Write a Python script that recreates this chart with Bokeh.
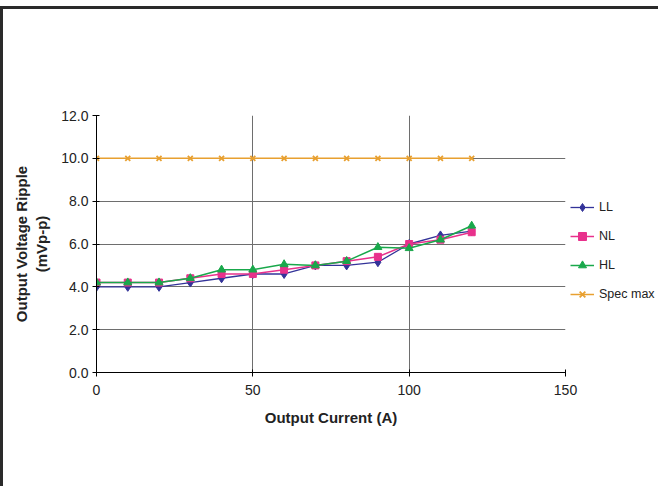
from bokeh.plotting import figure
from bokeh.models import Range1d, FixedTicker, NumeralTickFormatter, Legend, LegendItem
from bokeh.embed import file_html
from bokeh.resources import INLINE

current = [0, 10, 20, 30, 40, 50, 60, 70, 80, 90, 100, 110, 120]
ll = [4.0, 4.0, 4.0, 4.2, 4.4, 4.6, 4.6, 5.0, 5.0, 5.15, 6.0, 6.4, 6.6]
nl = [4.2, 4.2, 4.2, 4.4, 4.6, 4.6, 4.8, 5.0, 5.2, 5.4, 6.0, 6.2, 6.55]
hl = [4.2, 4.2, 4.2, 4.4, 4.8, 4.8, 5.05, 5.0, 5.2, 5.85, 5.8, 6.2, 6.85]
spec = [10.0] * 13
x_ticks = [0, 50, 100, 150]
y_ticks = [0, 2, 4, 6, 8, 10, 12]

FONT = "Liberation Sans"

p = figure(frame_width=469, frame_height=257, output_backend="svg", toolbar_location=None,
           x_range=Range1d(0, 150), y_range=Range1d(0, 12),
           min_border_left=93, min_border_right=86, min_border_top=106, min_border_bottom=114)
p.styles = {"border-top": "3px solid #2a2a2a", "border-left": "3px solid #2a2a2a",
            "margin-top": "6px"}
p.outline_line_color = None
p.background_fill_color = "white"

p.xaxis.ticker = FixedTicker(ticks=x_ticks)
p.yaxis.ticker = FixedTicker(ticks=y_ticks)
p.yaxis.formatter = NumeralTickFormatter(format="0.0")
for ax in (p.xaxis[0], p.yaxis[0]):
    ax.axis_line_color = "black"
    ax.major_tick_line_color = "black"
    ax.major_tick_in = 3
    ax.major_tick_out = 4
    ax.minor_tick_line_color = None
    ax.major_label_text_font = FONT
    ax.major_label_text_font_size = "14px"
    ax.major_label_text_color = "#222222"
    ax.axis_label_text_font = FONT
    ax.axis_label_text_font_style = "bold"
    ax.axis_label_text_font_size = "15px"
    ax.axis_label_text_color = "#222222"
p.xaxis.axis_label = "Output Current (A)"
p.yaxis.axis_label = "Output Voltage Ripple\n(mVp-p)"
p.xaxis.major_label_standoff = 8
p.xaxis.axis_label_standoff = 11
p.yaxis.major_label_standoff = 4
p.yaxis.axis_label_standoff = 8

p.xgrid.ticker = FixedTicker(ticks=x_ticks)
p.ygrid.ticker = FixedTicker(ticks=y_ticks)
p.grid.grid_line_color = "#6e6e6e"
p.grid.grid_line_width = 1

c_ll, c_nl, c_hl, c_sp = "#333399", "#E8318C", "#19A84B", "#E8A030"

r_sp_l = p.line(current, spec, color=c_sp, line_width=1.5)
r_sp_m = p.scatter(current, spec, marker="x", size=7, line_color=c_sp, line_width=1.8)
r_ll_l = p.line(current, ll, color=c_ll, line_width=1.3)
r_ll_m = p.scatter(current, ll, marker="diamond", size=9, color=c_ll)
r_nl_l = p.line(current, nl, color=c_nl, line_width=1.5)
r_nl_m = p.scatter(current, nl, marker="square", size=7, color=c_nl)
r_hl_l = p.line(current, hl, color=c_hl, line_width=1.5)
r_hl_m = p.scatter(current, hl, marker="triangle", size=8, color=c_hl)

legend = Legend(items=[
    LegendItem(label="LL", renderers=[r_ll_l, r_ll_m]),
    LegendItem(label="NL", renderers=[r_nl_l, r_nl_m]),
    LegendItem(label="HL", renderers=[r_hl_l, r_hl_m]),
    LegendItem(label="Spec max", renderers=[r_sp_l, r_sp_m]),
], location=(5, 68))
legend.border_line_color = None
legend.background_fill_alpha = 0
legend.padding = 0
legend.margin = 0
legend.spacing = 9
legend.glyph_width = 24
legend.glyph_height = 20
legend.label_height = 20
legend.label_standoff = 5
legend.label_text_font = FONT
legend.label_text_font_size = "12.5px"
legend.label_text_color = "#222222"
p.add_layout(legend, "right")

open("out.html", "w").write(file_html(p, INLINE))
